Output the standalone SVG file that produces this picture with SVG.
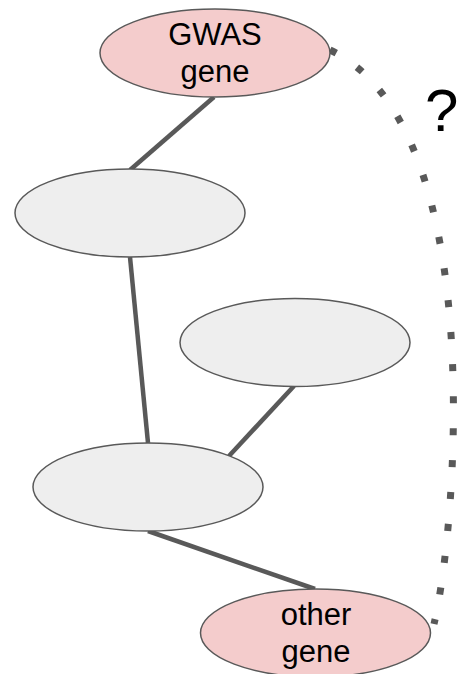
<svg xmlns="http://www.w3.org/2000/svg" width="458" height="674" viewBox="0 0 458 674">
<style>
.node ellipse{stroke:#595959;stroke-width:1.5}
.pink{fill:#f4cccc}
.grey{fill:#eeeeee}
.lbl{font-family:"Liberation Sans",Arial,sans-serif;font-size:31px;fill:#000;text-anchor:middle}
.edge{stroke:#595959;stroke-width:4.5;fill:none}
.dot{stroke:#595959;stroke-width:7;fill:none;stroke-dasharray:7 25}
</style>
<rect width="458" height="674" fill="#ffffff"/>
<g id="connectors">
<line class="edge" x1="214" y1="97" x2="130" y2="170"/>
<line class="edge" x1="130" y1="257" x2="148" y2="443"/>
<line class="edge" x1="294" y1="386" x2="229" y2="456"/>
<line class="edge" x1="148" y1="531" x2="315" y2="589"/>
<path class="dot" d="M330,50 C490,126 457,527 434,624"/>
<text x="425" y="131" style="font-family:'Liberation Sans',Arial,sans-serif;font-size:60px;fill:#000">?</text>
</g>
<g id="gwas" class="node">
<ellipse class="pink" cx="215" cy="53" rx="115" ry="44"/>
<text class="lbl" x="215" y="44.5">GWAS</text>
<text class="lbl" x="215" y="81.5">gene</text>
</g>
<g id="n2" class="node">
<ellipse class="grey" cx="130" cy="213" rx="115" ry="44"/>
</g>
<g id="n3" class="node">
<ellipse class="grey" cx="295" cy="342.5" rx="115" ry="44"/>
</g>
<g id="n4" class="node">
<ellipse class="grey" cx="148" cy="487" rx="115" ry="44"/>
</g>
<g id="other" class="node">
<ellipse class="pink" cx="315.5" cy="633" rx="115" ry="44"/>
<text class="lbl" x="316" y="624.5">other</text>
<text class="lbl" x="316" y="661.5">gene</text>
</g>
</svg>
